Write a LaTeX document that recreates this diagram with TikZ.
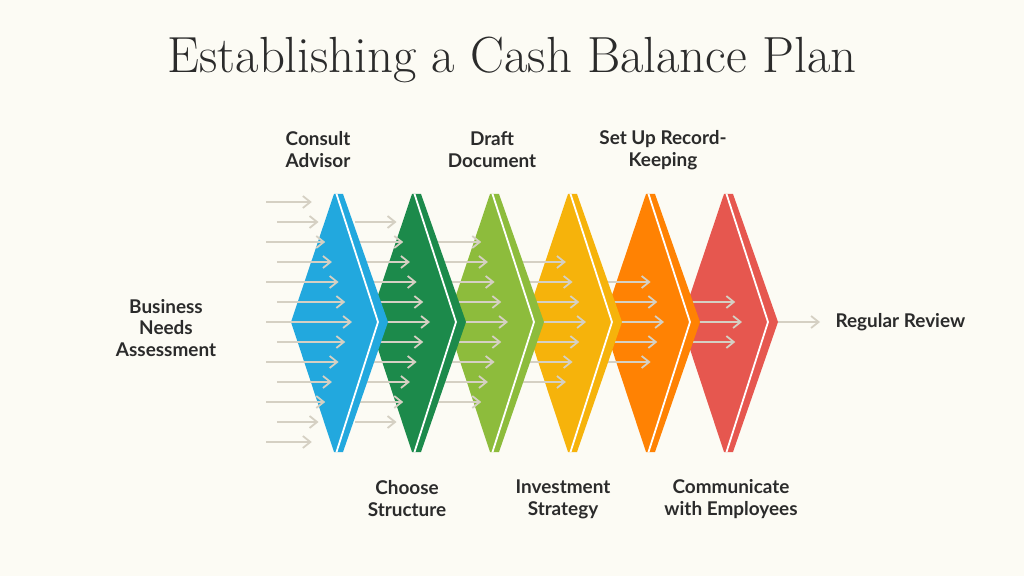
\documentclass[tikz,border=0pt]{standalone}
\usepackage{fontspec}
\newfontfamily\labelfont{Lato}
\usetikzlibrary{arrows.meta}

\definecolor{bgcream}{HTML}{FCFBF4}
\definecolor{titlegray}{HTML}{2B2B2B}
\definecolor{arrowgray}{HTML}{D5D0C3}
\definecolor{step0}{HTML}{22A8DE}
\definecolor{step1}{HTML}{1C8A4B}
\definecolor{step2}{HTML}{8DBC3C}
\definecolor{step3}{HTML}{F6B30B}
\definecolor{step4}{HTML}{FF8203}
\definecolor{step5}{HTML}{E6574F}

\tikzset{
	flowarrow/.style= {draw= arrowgray, line width= 1.8bp, -{Straight Barb[length= 7.5bp, width= 12bp]}},
	steplabel/.style= {font= \labelfont\bfseries\fontsize{19}{22}\selectfont, text= titlegray, align= center},
	gapline/.style= {draw= white, line width= 1.8bp, line join= miter}
}

\begin{document}
\begin{tikzpicture}[x= 1bp, y= -1bp]
		\fill[bgcream] (0,0) rectangle (1024,576);
		\useasboundingbox (0,0) rectangle (1024,576);
		\node[font= \fontsize{51}{56}\selectfont, text= titlegray] (title) at (512,60) {Establishing a Cash Balance Plan};
		% Chevrons and arrows, drawn from right to left
		\foreach \j in {6,5,...,0} {
			\pgfmathsetmacro{\dx}{78*\j}
			%% Arrows of column j
			\foreach \k in {-6,...,6} {
				\pgfmathtruncatemacro{\ak}{abs(\k)}
				\ifnum\ak>\numexpr6-\j\relax\else
					\pgfmathsetmacro{\xa}{266+\dx+11*mod(\ak,2)}
					\pgfmathsetmacro{\xb}{352+\dx-6.7*\ak}
					\coordinate (a\j\k) at (\xa,322+20*\k);
					\coordinate (b\j\k) at (\xb,322+20*\k);
					\draw[flowarrow] (a\j\k) -- (b\j\k);
				\fi
			}
			%% Chevron of step j-1
			\ifnum\j>0
				\pgfmathtruncatemacro{\s}{\j-1}
				\pgfmathsetmacro{\ds}{78*\s}
				\fill[step\s] (334+\ds,194) -- (343+\ds,194) -- (388+\ds,322) -- (343+\ds,452) -- (334+\ds,452) -- (291+\ds,322) -- cycle;
				\draw[gapline] (336.5+\ds,194) -- (378+\ds,322) -- (336.5+\ds,452);
			\fi
		}
		% Labels
		\node[steplabel] (consult) at (318,150) {Consult\\Advisor};
		\node[steplabel] (draft) at (492,150) {Draft\\Document};
		\node[steplabel] (record) at (663,150) {Set Up Record-\\Keeping};
		\node[steplabel] (needs) at (166,328) {Business\\Needs\\Assessment};
		\node[steplabel] (choose) at (407,499) {Choose\\Structure};
		\node[steplabel] (invest) at (563,499) {Investment\\Strategy};
		\node[steplabel] (comm) at (731,499) {Communicate\\with Employees};
		\node[steplabel, anchor= west] (review) at (832,322) {Regular Review};
	\end{tikzpicture}
\end{document}
